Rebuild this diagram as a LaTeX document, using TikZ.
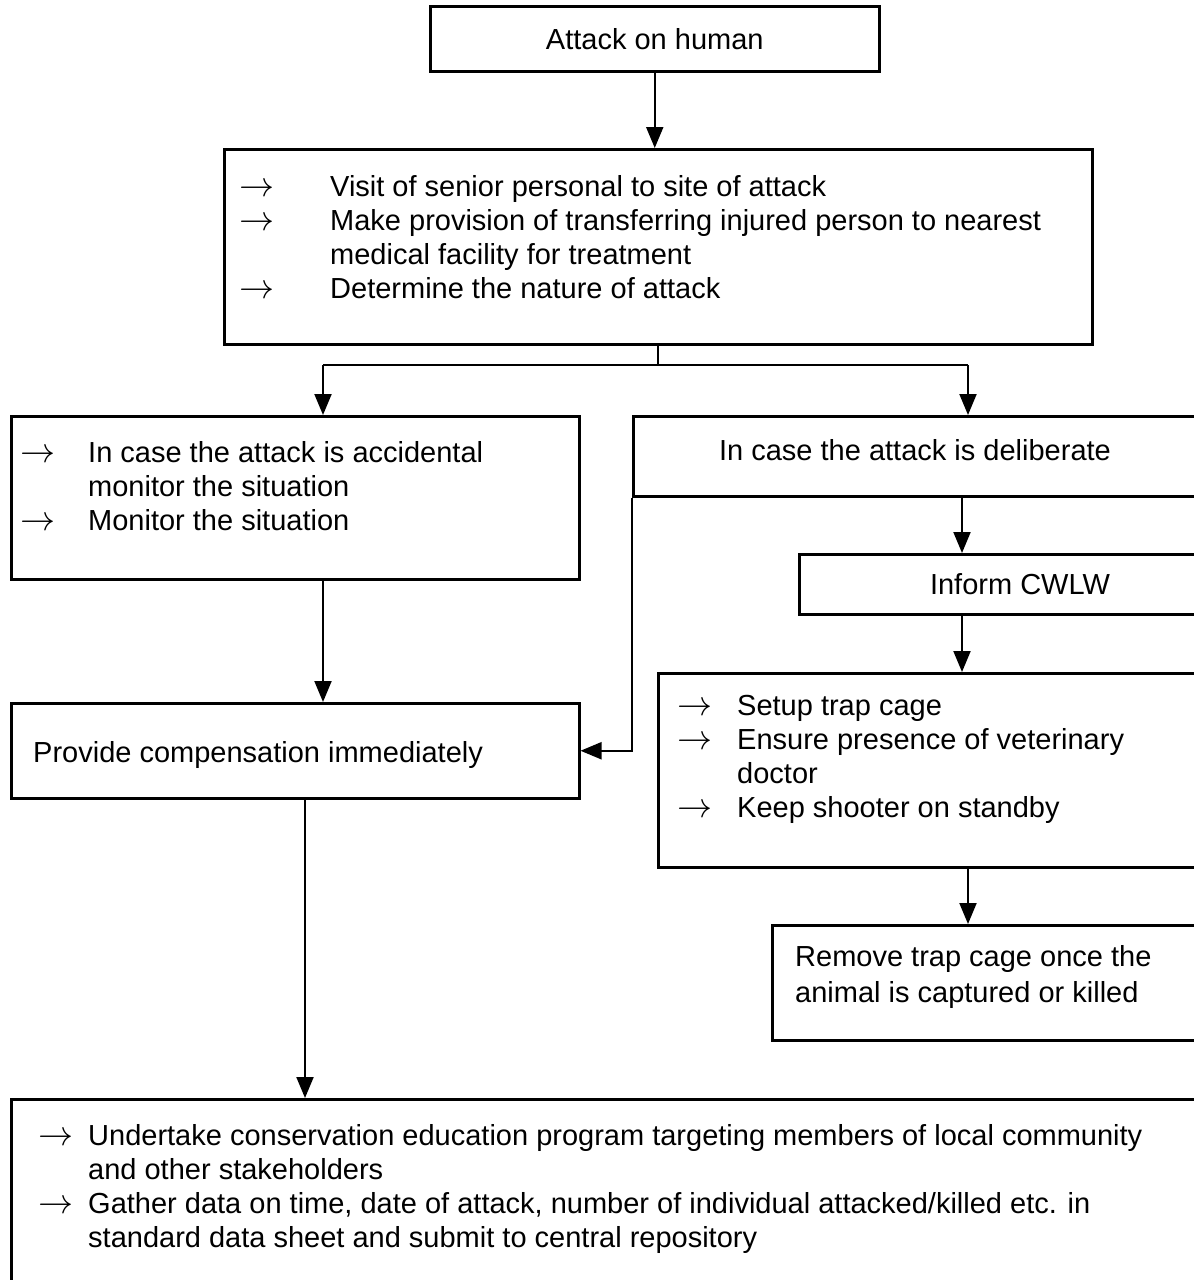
\documentclass[tikz,border=0pt]{standalone}
\usepackage{fontspec}
\setmainfont{Liberation Sans}
\usepackage{amsmath}
\usetikzlibrary{positioning,arrows.meta}
\newcommand{\arrowitem}[2]{\makebox[#1][l]{\resizebox{35pt}{!}{$\rightarrow$}}#2}
\newcommand{\contline}[2]{\hspace*{#1}#2}

\begin{document}
\begin{tikzpicture}[x=1pt,y=-1pt,font=\fontsize{29}{34}\selectfont]
            \tikzstyle{box}=[draw,line width=2.5pt,rectangle,inner sep=0,anchor=north west]
            \tikzstyle{txt}=[inner sep=0,align=left,anchor=north west]
            \tikzstyle{arr}=[line width=2pt,-{Triangle[length=21pt,width=17pt]}]
            \path[use as bounding box,clip] (0,0) rectangle (1194,1280);
            % boxes
            \node[box,minimum width=449pt,minimum height=65pt,anchor=north west] (attack) at (429,5) {Attack on human};
            \node[box,minimum width=868pt,minimum height=195pt] (visit) at (223,148) {};
            \node[box,minimum width=568pt,minimum height=163pt] (accid) at (10,415) {};
            \node[box,minimum width=582pt,minimum height=80pt] (delib) at (632,415) {};
            \node[box,minimum width=416pt,minimum height=60pt] (inform) at (798,553) {};
            \node[box,minimum width=557pt,minimum height=194pt] (trap) at (657,672) {};
            \node[box,minimum width=443pt,minimum height=115pt] (remove) at (771,924) {};
            \node[box,minimum width=568pt,minimum height=95pt] (comp) at (10,702) {};
            \node[box,minimum width=1204pt,minimum height=250pt] (educ) at (10,1098) {};
            % texts
            \node[txt,below right=27pt and 16pt of visit.north west] (visittxt) {\arrowitem{91pt}{Visit of senior personal to site of attack}\\
              \arrowitem{91pt}{Make provision of transferring injured person to nearest}\\
              \contline{91pt}{medical facility for treatment}\\
              \arrowitem{91pt}{Determine the nature of attack}};
            \node[txt,below right=26pt and 10pt of accid.north west] (accidtxt) {\arrowitem{68pt}{In case the attack is accidental}\\
              \contline{68pt}{monitor the situation}\\
              \arrowitem{68pt}{Monitor the situation}};
            \node[inner sep=0] (delibtxt) at (915,450) {In case the attack is deliberate};
            \node[inner sep=0] (informtxt) at (1020,584) {Inform CWLW};
            \node[txt,below right=23pt and 20pt of trap.north west] (traptxt) {\arrowitem{60pt}{Setup trap cage}\\
              \arrowitem{60pt}{Ensure presence of veterinary}\\
              \contline{60pt}{doctor}\\
              \arrowitem{60pt}{Keep shooter on standby}};
            \node[txt,below right=21pt and 24pt of remove.north west,font=\fontsize{29}{36}\selectfont] (removetxt) {Remove trap cage once the\\ animal is captured or killed};
            \node[txt,below right=39pt and 23pt of comp.north west] (comptxt) {Provide compensation immediately};
            \node[txt,below right=26pt and 28pt of educ.north west] (eductxt) {\arrowitem{50pt}{Undertake conservation education program targeting members of local community}\\
              \contline{50pt}{and other stakeholders}\\
              \arrowitem{50pt}{Gather data on time, date of attack, number of individual attacked/killed etc. in}\\
              \contline{50pt}{standard data sheet and submit to central repository}};
            % connectors
            \coordinate (forkL) at (323,365);
            \coordinate (forkR) at (968,365);
            \coordinate (colR) at (962,0);
            \coordinate (colL) at (305,0);
            \draw[arr] (attack.south) -- (attack.south |- visit.north);
            \draw[line width=2pt] (visit.south) -- (visit.south |- forkL);
            \draw[line width=2pt] (forkL) -- (forkR);
            \draw[arr] (forkL) -- (forkL |- accid.north);
            \draw[arr] (forkR) -- (forkR |- delib.north);
            \draw[arr] (forkL |- accid.south) -- (forkL |- comp.north);
            \draw[arr] (delib.south west) |- (comp.east);
            \draw[arr] (colR |- delib.south) -- (colR |- inform.north);
            \draw[arr] (colR |- inform.south) -- (colR |- trap.north);
            \draw[arr] (forkR |- trap.south) -- (forkR |- remove.north);
            \draw[arr] (colL |- comp.south) -- (colL |- educ.north);
          \end{tikzpicture}
\end{document}
